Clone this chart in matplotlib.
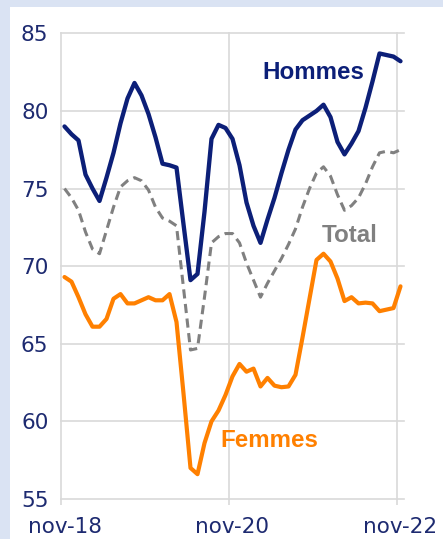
import matplotlib
matplotlib.use('Agg')
import matplotlib.pyplot as plt
from matplotlib.patches import Rectangle
import numpy as np

# ---- data (monthly, nov-18 .. nov-22) ----
hommes = [79.0, 78.5, 78.1, 75.9, 75.0, 74.2, 75.7, 77.3, 79.2, 80.8,
          81.8, 81.0, 79.8, 78.3, 76.6, 76.5, 76.35, 72.7, 69.1, 69.5,
          73.5, 78.2, 79.1, 78.9, 78.2, 76.5, 74.1, 72.6, 71.5, 73.0,
          74.4, 76.0, 77.5, 78.8, 79.4, 79.7, 80.0, 80.4, 79.6, 78.0,
          77.2, 77.9, 78.7, 80.2, 81.9, 83.7, 83.6, 83.5, 83.2]
total = [75.0, 74.4, 73.6, 72.2, 71.1, 70.8, 72.3, 73.8, 75.1, 75.5,
         75.7, 75.5, 74.9, 73.8, 73.1, 72.9, 72.6, 68.6, 64.6, 64.7,
         68.0, 71.5, 71.9, 72.1, 72.1, 71.5, 70.2, 69.1, 68.0, 68.9,
         69.7, 70.5, 71.4, 72.4, 73.8, 75.0, 76.0, 76.4, 75.8, 74.6,
         73.6, 73.9, 74.4, 75.3, 76.4, 77.3, 77.4, 77.3, 77.5]
femmes = [69.3, 69.0, 68.0, 66.9, 66.1, 66.1, 66.6, 67.9, 68.2, 67.6,
          67.6, 67.8, 68.0, 67.8, 67.8, 68.2, 66.4, 61.8, 57.0, 56.6,
          58.6, 60.0, 60.7, 61.7, 62.9, 63.7, 63.2, 63.4, 62.25, 62.8,
          62.3, 62.2, 62.25, 63.0, 65.4, 67.9, 70.4, 70.8, 70.3, 69.2,
          67.75, 68.0, 67.6, 67.65, 67.6, 67.1, 67.2, 67.3, 68.7]
tick_labels = ["nov-18", "nov-20", "nov-22"]
tick_months = [0, 24, 48]
y_ticks = [55, 60, 65, 70, 75, 80, 85]

NAVY = '#0c1f78'
LABEL_NAVY = '#1d2a70'
GRAY = '#808080'
ORANGE = '#FF8000'
GRID = '#d9d9d9'

fig = plt.figure(figsize=(4.43, 5.39), dpi=100)
fig.patch.set_facecolor('#dae3f3')
fig.patches.append(Rectangle((10 / 443, 0), 1 - 10 / 443, 1 - 7 / 539,
                             transform=fig.transFigure, facecolor='white',
                             edgecolor='none', zorder=-10))

ax = fig.add_axes([61 / 443, 1 - 499 / 539, (404 - 61) / 443, (499 - 33.3) / 539])
ax.set_zorder(5)
ax.set_facecolor('white')
ax.set_axisbelow(True)

n = len(hommes)
x = np.arange(n) + 0.5

ax.plot(x, total, color=GRAY, lw=2.2, dashes=(3.0, 1.8), solid_capstyle='butt', zorder=3)
ax.plot(x, femmes, color=ORANGE, lw=3.0, zorder=4, solid_joinstyle='round',
        solid_capstyle='round')
ax.plot(x, hommes, color=NAVY, lw=3.1, zorder=5, solid_joinstyle='round',
        solid_capstyle='round')

ax.set_xlim(0, n)
ax.set_ylim(55, 85)

ax.set_yticks(y_ticks)
ax.set_yticklabels([str(v) for v in y_ticks])
ax.set_xticks(tick_months)
ax.set_xticklabels([''] * len(tick_months))
ax.set_xticks([m + 0.5 for m in tick_months], minor=True)
ax.set_xticklabels(tick_labels, minor=True)

ax.tick_params(axis='x', which='major', length=4.5, width=1.2, color=GRID)
ax.tick_params(axis='x', which='minor', length=0, pad=13, labelsize=15.5,
               labelcolor=LABEL_NAVY)
ax.tick_params(axis='y', length=0, pad=9, labelsize=15.5, labelcolor=LABEL_NAVY)

ax.grid(axis='x', which='major', color=GRID, lw=1.2)
ax.grid(axis='y', color=GRID, lw=1.2)
for ln in ax.get_xgridlines() + ax.get_ygridlines():
    ln.set_clip_on(False)

for s in ax.spines.values():
    s.set_visible(False)

font_bold = dict(family='Liberation Sans', weight='bold', fontsize=17.4)
ax.text(28.8, 82.45, "Hommes", color=NAVY, va='center', ha='left', **font_bold)
ax.text(37.2, 72.0, "Total", color=GRAY, va='center', ha='left', **font_bold)
ax.text(22.7, 58.8, "Femmes", color=ORANGE, va='center', ha='left', **font_bold)

fig.savefig('out.png', dpi=100, facecolor=fig.get_facecolor())
